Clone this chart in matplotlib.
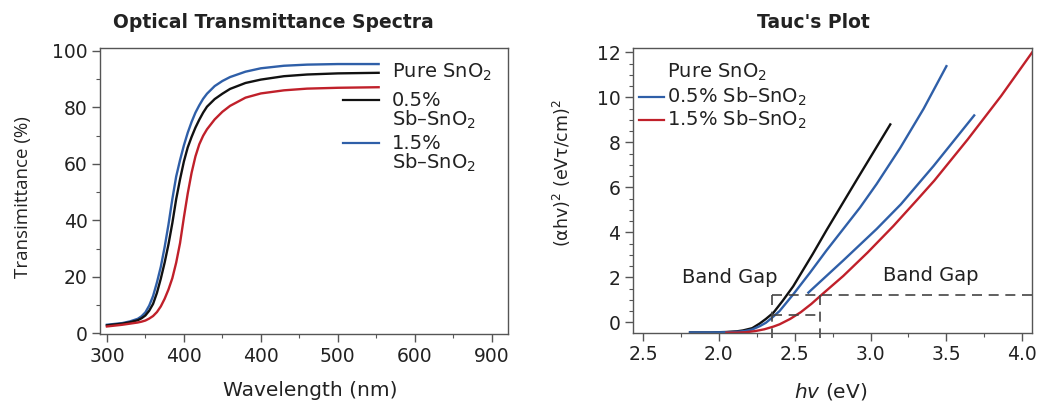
import matplotlib
matplotlib.use('Agg')
import matplotlib.pyplot as plt
from matplotlib.ticker import MultipleLocator

plt.rcParams['font.family'] = ['DejaVu Sans']
plt.rcParams['mathtext.fontset'] = 'dejavusans'

# ---- transmittance spectra ----
wavelength = [300, 320, 330, 340, 345, 350, 355, 360, 365, 370, 375, 380, 385, 390, 395, 400, 405,
              410, 415, 420, 425, 430, 440, 450, 460, 480, 500, 530, 560, 600, 653]
t_black = [2.8, 3.4, 3.9, 4.6, 5.3, 6.3, 8.0, 10.4, 14.3, 19.3, 25.0, 31.5, 39.0, 47.5, 54.5, 60.8, 65.8,
           69.5, 72.8, 75.6, 78.1, 80.2, 82.9, 84.8, 86.5, 88.6, 89.8, 91.0, 91.6, 92.0, 92.2]
t_red = [2.4, 3.0, 3.4, 3.8, 4.1, 4.5, 5.2, 6.1, 7.5, 9.5, 12.2, 15.5, 19.5, 25.0, 31.9, 41.0, 49.5,
         56.8, 62.6, 66.9, 69.9, 72.2, 75.7, 78.4, 80.5, 83.4, 84.9, 86.0, 86.6, 86.9, 87.1]
t_blue = [3.0, 3.6, 4.2, 5.1, 6.0, 7.4, 9.8, 13.2, 18.0, 23.5, 30.5, 38.5, 47.5, 55.5, 61.3, 66.5, 71.0,
          74.8, 78.1, 80.7, 83.0, 84.8, 87.5, 89.3, 90.7, 92.6, 93.8, 94.7, 95.1, 95.3, 95.3]
wl_ticks = [300, 400, 500, 600, 700, 800]
wl_labels = ['300', '400', '400', '500', '600', '900']

# ---- Tauc plot ----
ev_black = [1.81, 1.95, 2.05, 2.12, 2.16, 2.22, 2.27, 2.31, 2.36, 2.42, 2.49, 2.62, 2.71, 2.91, 3.13]
tauc_black = [-0.45, -0.45, -0.43, -0.40, -0.36, -0.26, -0.05, 0.15, 0.43, 0.95, 1.6, 3.05, 4.1, 6.35, 8.8]
ev_blue1 = [1.81, 1.95, 2.05, 2.12, 2.17, 2.22, 2.27, 2.31, 2.35, 2.40, 2.49, 2.60, 2.71, 2.93, 3.04,
            3.195, 3.35, 3.50]
tauc_blue1 = [-0.45, -0.45, -0.44, -0.42, -0.39, -0.32, -0.17, -0.02, 0.2, 0.5, 1.24, 2.2, 3.2, 5.1, 6.15,
              7.75, 9.5, 11.39]
ev_blue2 = [2.59, 2.82, 3.04, 3.20, 3.415, 3.683]
tauc_blue2 = [1.32, 2.75, 4.15, 5.25, 6.95, 9.2]
ev_red = [2.05, 2.12, 2.18, 2.24, 2.30, 2.36, 2.40, 2.47, 2.54, 2.61, 2.68, 2.82, 2.98, 3.15, 3.31,
          3.42, 3.64, 3.86, 4.07]
tauc_red = [-0.46, -0.46, -0.44, -0.39, -0.31, -0.19, -0.09, 0.15, 0.45, 0.82, 1.24, 2.06, 3.10, 4.28,
            5.47, 6.3, 8.13, 10.06, 12.05]
ev_ticks = [1.5, 2.0, 2.5, 3.0, 3.5, 4.0]
ev_labels = ['2.5', '2.0', '2.5', '3.0', '3.5', '4.0']
gap_low, gap_high = 2.35, 2.668
gap_y1, gap_y2 = 1.2, 0.34

c_blue = '#2f5fa8'
c_black = '#111111'
c_red = '#c0202a'
spine_c = '#555555'
txt_c = '#222222'

fig = plt.figure(figsize=(10.48, 4.03), dpi=100)
ax1 = fig.add_axes([0.0954, 0.171, 0.3893, 0.710])
ax2 = fig.add_axes([0.604, 0.174, 0.381, 0.707])

for ax in (ax1, ax2):
    for s in ax.spines.values():
        s.set_color(spine_c)
        s.set_linewidth(1.0)
    ax.tick_params(which='major', direction='out', length=6, width=1, color=spine_c,
                   labelsize=13.5, labelcolor=txt_c, pad=3)
    ax.tick_params(which='minor', direction='out', length=3, width=0.8, color=spine_c)

# left panel
ax1.plot(wavelength, t_blue, color=c_blue, lw=1.7)
ax1.plot(wavelength, t_black, color=c_black, lw=1.7)
ax1.plot(wavelength, t_red, color=c_red, lw=1.7)
ax1.set_xlim(291, 821)
ax1.set_ylim(-0.3, 101)
ax1.set_xticks(wl_ticks, wl_labels)
ax1.xaxis.set_minor_locator(MultipleLocator(50))
ax1.set_yticks([0, 20, 40, 60, 80, 100])
ax1.yaxis.set_minor_locator(MultipleLocator(10))
ax1.set_xlabel('Wavelength (nm)', fontsize=14.5, color=txt_c, va='center')
ax1.xaxis.set_label_coords(0.515, -0.196)
ax1.set_ylabel('Transimittance (%)', fontsize=13.5, family='Open Sans', color=txt_c, va='center')
ax1.yaxis.set_label_coords(-0.189, 0.479)

fs_leg = 14
tr = ax1.transAxes
ax1.text(0.716, 0.916, 'Pure SnO$_2$', transform=tr, fontsize=fs_leg, color=txt_c, va='center')
ax1.plot([0.596, 0.684], [0.818, 0.818], transform=tr, color=c_black, lw=1.6)
ax1.text(0.716, 0.818, '0.5%', transform=tr, fontsize=fs_leg, color=txt_c, va='center')
ax1.text(0.716, 0.748, 'Sb–SnO$_2$', transform=tr, fontsize=fs_leg, color=txt_c, va='center')
ax1.plot([0.596, 0.684], [0.667, 0.667], transform=tr, color=c_blue, lw=1.6)
ax1.text(0.716, 0.667, '1.5%', transform=tr, fontsize=fs_leg, color=txt_c, va='center')
ax1.text(0.716, 0.598, 'Sb–SnO$_2$', transform=tr, fontsize=fs_leg, color=txt_c, va='center')

# right panel
ax2.plot(ev_black, tauc_black, color=c_black, lw=1.7)
ax2.plot(ev_blue1, tauc_blue1, color=c_blue, lw=1.7)
ax2.plot(ev_blue2, tauc_blue2, color=c_blue, lw=1.7)
ax2.plot(ev_red, tauc_red, color=c_red, lw=1.7)
dash = dict(color='#444444', lw=1.2, ls=(0, (6, 4)))
ax2.plot([gap_low, 4.066], [gap_y1, gap_y1], **dash)
ax2.plot([gap_low, gap_high], [gap_y2, gap_y2], **dash)
ax2.plot([gap_low, gap_low], [gap_y1, -0.72], clip_on=False, **dash)
ax2.plot([gap_high, gap_high], [gap_y1, -0.72], clip_on=False, **dash)
ax2.set_xlim(1.434, 4.066)
ax2.set_ylim(-0.47, 12.2)
ax2.set_xticks(ev_ticks, ev_labels)
ax2.xaxis.set_minor_locator(MultipleLocator(0.25))
ax2.set_yticks([0, 2, 4, 6, 8, 10, 12])
ax2.yaxis.set_minor_locator(MultipleLocator(0.5))
ax2.set_xlabel('$hv$ (eV)', fontsize=14.5, color=txt_c, va='center')
ax2.xaxis.set_label_coords(0.494, -0.207)
ax2.set_ylabel('(αhv)$^2$ (eVτ/cm)$^2$', fontsize=12.5, color=txt_c, va='center')
ax2.yaxis.set_label_coords(-0.178, 0.561)
ax2.text(2.07, 2.0, 'Band Gap', fontsize=fs_leg, color=txt_c, ha='center', va='center')
ax2.text(3.40, 2.06, 'Band Gap', fontsize=fs_leg, color=txt_c, ha='center', va='center')

tr2 = ax2.transAxes
ax2.text(0.085, 0.916, 'Pure SnO$_2$', transform=tr2, fontsize=fs_leg, color=txt_c, va='center')
ax2.plot([0.015, 0.078], [0.829, 0.829], transform=tr2, color=c_blue, lw=1.6)
ax2.text(0.085, 0.829, '0.5% Sb–SnO$_2$', transform=tr2, fontsize=fs_leg, color=txt_c, va='center')
ax2.plot([0.015, 0.078], [0.747, 0.747], transform=tr2, color=c_red, lw=1.6)
ax2.text(0.085, 0.747, '1.5% Sb–SnO$_2$', transform=tr2, fontsize=fs_leg, color=txt_c, va='center')

fig.text(0.2605, 0.945, 'Optical Transmittance Spectra', fontsize=13.5, fontweight='bold',
         color=txt_c, ha='center', va='center')
fig.text(0.776, 0.945, "Tauc's Plot", fontsize=13.5, fontweight='bold',
         color=txt_c, ha='center', va='center')

fig.savefig('out.png', dpi=100)
